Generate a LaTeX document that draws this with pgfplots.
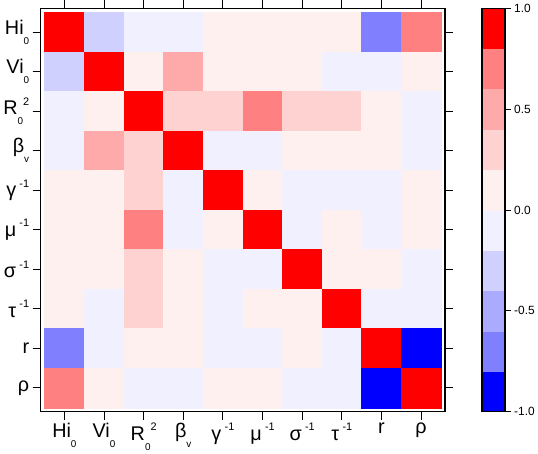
\documentclass[border=0pt]{standalone}
\usepackage{pgfplots}
\pgfplotsset{compat=1.18}
\usepackage{fontspec}
\setmainfont{Liberation Sans}

% small lowered / raised parts of the parameter names
\newcommand{\lo}[1]{\raisebox{-0.5em}{\fontsize{10}{10}\selectfont #1}}
\newcommand{\hi}[1]{\raisebox{0.5em}{\fontsize{11}{11}\selectfont #1}}

\begin{document}
\begin{tikzpicture}
\begin{axis}[
    scale only axis,
    width=408pt, height=407pt,
    xmin=-0.6, xmax=9.6, ymin=-0.6, ymax=9.6,
    y dir=reverse,
    axis line style={line width=1.5pt},
    tick align=outside,
    xtick pos=both, ytick pos=both,
    major tick length=8pt,
    tick style={line width=1pt, black},
    xtick={0,...,9}, ytick={0,...,9},
    xticklabels={Hi\lo{0}, Vi\lo{0}, R\lo{0}\hi{2}, β\lo{v}, γ\,\hi{-1}, μ\,\hi{-1}, σ\,\hi{-1}, τ\,\hi{-1}, r, ρ},
    yticklabels={Hi\lo{0}, Vi\lo{0}, R\lo{0}\hi{2}, β\lo{v}, γ\,\hi{-1}, μ\,\hi{-1}, σ\,\hi{-1}, τ\,\hi{-1}, r, ρ},
    ticklabel style={font=\fontsize{20}{20}\selectfont},
    colormap={corr}{rgb255=(0,0,255) rgb255=(128,128,255) rgb255=(170,170,255)
        rgb255=(208,208,255) rgb255=(240,240,255) rgb255=(255,240,240)
        rgb255=(255,210,210) rgb255=(255,170,170) rgb255=(255,128,128) rgb255=(255,0,0)},
    colormap access=const,
    point meta min=-1, point meta max=1,
    colorbar,
    colorbar shift/.style={xshift=29pt},
    colorbar style={
        width=23pt,
        axis line style={line width=1.5pt},
        ytick={-1,-0.5,0,0.5,1},
        yticklabels={-1.0,-0.5,0.0,0.5,1.0},
        tick align=outside,
        ytick pos=right,
        major tick length=6pt,
        tick style={line width=1pt, black},
        yticklabel style={font=\fontsize{12}{12}\selectfont},
    },
]
\addplot[matrix plot*, mesh/cols=10, point meta=explicit] coordinates {
(0,0)[1] (1,0)[-0.3] (2,0)[-0.1] (3,0)[-0.1] (4,0)[0.1] (5,0)[0.1] (6,0)[0.1] (7,0)[0.1] (8,0)[-0.7] (9,0)[0.7]

(0,1)[-0.3] (1,1)[1] (2,1)[0.1] (3,1)[0.5] (4,1)[0.1] (5,1)[0.1] (6,1)[0.1] (7,1)[-0.1] (8,1)[-0.1] (9,1)[0.1]

(0,2)[-0.1] (1,2)[0.1] (2,2)[1] (3,2)[0.3] (4,2)[0.3] (5,2)[0.7] (6,2)[0.3] (7,2)[0.3] (8,2)[0.1] (9,2)[-0.1]

(0,3)[-0.1] (1,3)[0.5] (2,3)[0.3] (3,3)[1] (4,3)[-0.1] (5,3)[-0.1] (6,3)[0.1] (7,3)[0.1] (8,3)[0.1] (9,3)[-0.1]

(0,4)[0.1] (1,4)[0.1] (2,4)[0.3] (3,4)[-0.1] (4,4)[1] (5,4)[0.1] (6,4)[-0.1] (7,4)[-0.1] (8,4)[-0.1] (9,4)[0.1]

(0,5)[0.1] (1,5)[0.1] (2,5)[0.7] (3,5)[-0.1] (4,5)[0.1] (5,5)[1] (6,5)[-0.1] (7,5)[0.1] (8,5)[-0.1] (9,5)[0.1]

(0,6)[0.1] (1,6)[0.1] (2,6)[0.3] (3,6)[0.1] (4,6)[-0.1] (5,6)[-0.1] (6,6)[1] (7,6)[0.1] (8,6)[0.1] (9,6)[-0.1]

(0,7)[0.1] (1,7)[-0.1] (2,7)[0.3] (3,7)[0.1] (4,7)[-0.1] (5,7)[0.1] (6,7)[0.1] (7,7)[1] (8,7)[-0.1] (9,7)[-0.1]

(0,8)[-0.7] (1,8)[-0.1] (2,8)[0.1] (3,8)[0.1] (4,8)[-0.1] (5,8)[-0.1] (6,8)[0.1] (7,8)[-0.1] (8,8)[1] (9,8)[-0.9]

(0,9)[0.7] (1,9)[0.1] (2,9)[-0.1] (3,9)[-0.1] (4,9)[0.1] (5,9)[0.1] (6,9)[-0.1] (7,9)[-0.1] (8,9)[-0.9] (9,9)[1]
};
\end{axis}
\end{tikzpicture}
\end{document}
